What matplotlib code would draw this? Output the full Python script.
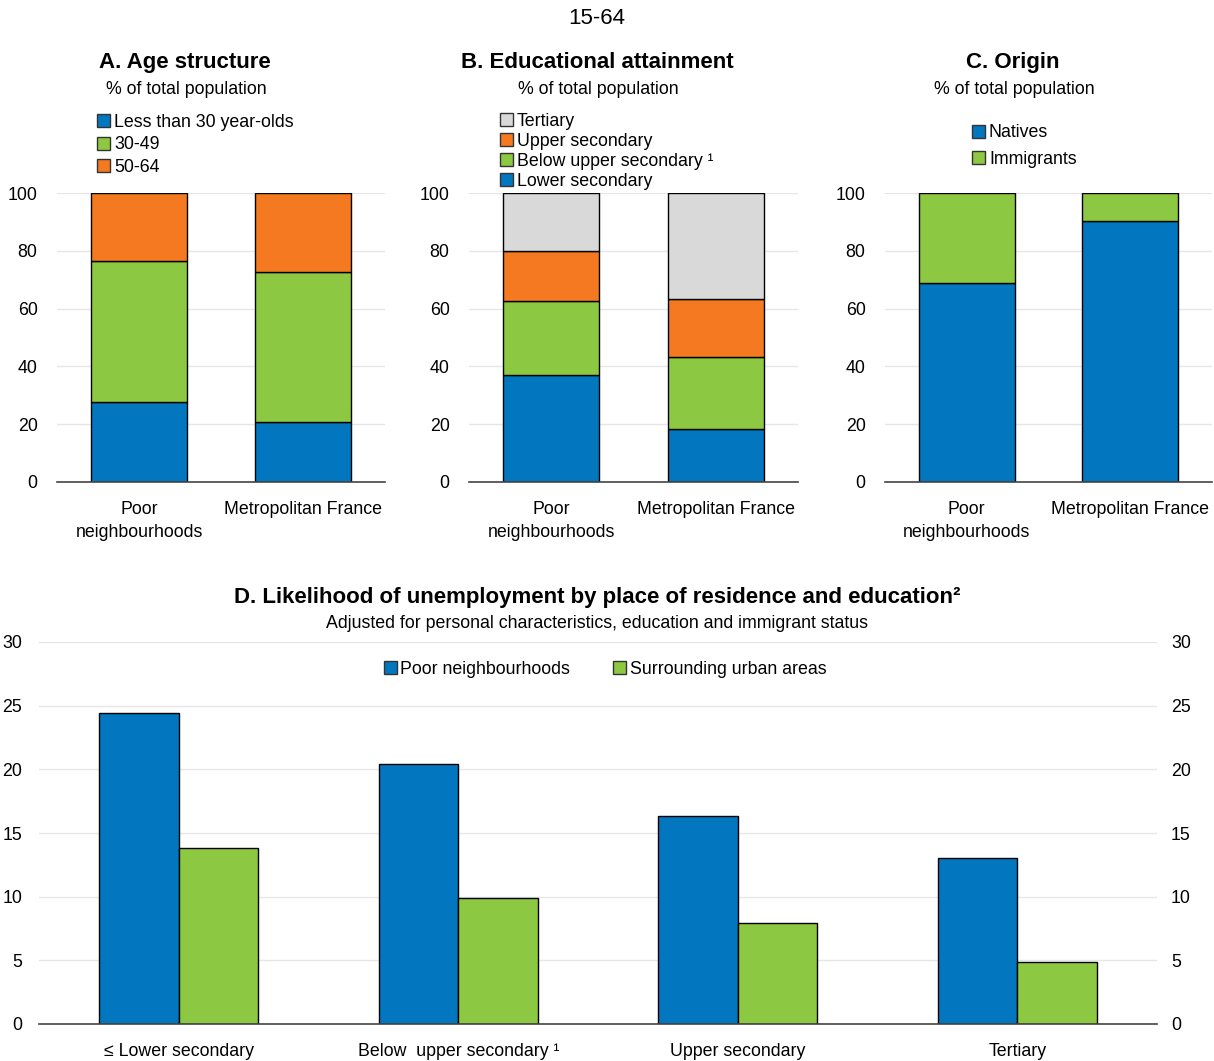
import matplotlib
matplotlib.use("Agg")
import matplotlib.pyplot as plt
from matplotlib.patches import Patch
import numpy as np

plt.rcParams['font.family'] = ['Liberation Sans Narrow', 'Liberation Sans', 'DejaVu Sans']

BLUE = '#0277BF'
GREEN = '#8CC841'
ORANGE = '#F47920'
GREY = '#D9D9D9'

W, H = 1214, 1061
FS = 12.8

# --- data ---
places = ['Poor\nneighbourhoods', 'Metropolitan France']

age_labels = ['Less than 30 year-olds', '30-49', '50-64']
age_under30 = [27.7, 20.8]
age_30_49 = [48.8, 51.9]
age_50_64 = [23.5, 27.3]

edu_labels = ['Lower secondary', 'Below upper secondary \u00b9', 'Upper secondary', 'Tertiary']
edu_lower = [36.9, 18.3]
edu_below_upper = [25.9, 25.1]
edu_upper = [17.2, 20.0]
edu_tertiary = [20.0, 36.6]

origin_labels = ['Natives', 'Immigrants']
origin_natives = [69.0, 90.3]
origin_immigrants = [31.0, 9.7]

unemp_cats = ['\u2264 Lower secondary', 'Below  upper secondary \u00b9', 'Upper secondary', 'Tertiary']
unemp_poor = [24.4, 20.4, 16.3, 13.0]
unemp_urban = [13.8, 9.9, 7.9, 4.9]


def box(x0, y0, x1, y1):
    # pixel box -> figure fraction rect
    return [x0 / W, 1 - y1 / H, (x1 - x0) / W, (y1 - y0) / H]


def style_axis(ax, ymax, step):
    ax.set_ylim(0, ymax)
    ax.set_yticks(np.arange(0, ymax + 0.1, step))
    ax.grid(axis='y', color='#E6E6E6', linewidth=1)
    ax.set_axisbelow(True)
    for s in ['top', 'right', 'left']:
        ax.spines[s].set_visible(False)
    ax.spines['bottom'].set_color('#444444')
    ax.spines['bottom'].set_linewidth(1.2)
    ax.tick_params(length=0, labelsize=FS)


def stacked(ax, series, colors):
    x = np.arange(len(places))
    bottom = np.zeros(len(places))
    for vals, c in zip(series, colors):
        ax.bar(x, vals, 0.585, bottom=bottom, color=c, edgecolor='black', linewidth=1)
        bottom += np.array(vals)
    ax.set_xlim(-0.5, 1.5)
    ax.set_xticks(x)
    ax.set_xticklabels(places, linespacing=1.45)
    style_axis(ax, 100, 20)
    ax.tick_params(axis='y', pad=14)
    ax.tick_params(axis='x', pad=14)


def legend(ax, labels, colors, anchor, loc='lower left', ncol=1, colsp=1.0, lsp=0.3):
    handles = [Patch(facecolor=c, edgecolor='#333333', linewidth=1) for c in colors]
    ax.legend(handles, labels, loc=loc, bbox_to_anchor=anchor, bbox_transform=fig.transFigure,
              frameon=False, fontsize=FS, handlelength=0.75, handleheight=0.75,
              handletextpad=0.2, labelspacing=lsp, borderaxespad=0, borderpad=0,
              ncol=ncol, columnspacing=colsp)


fig = plt.figure(figsize=(W / 100, H / 100), dpi=100)

fig.text(597 / W, 1 - 19 / H, '15-64', ha='center', va='center', fontsize=16)

# Panel A
axA = fig.add_axes(box(57, 193, 385, 482))
stacked(axA, [age_under30, age_30_49, age_50_64], [BLUE, GREEN, ORANGE])
legend(axA, age_labels, [BLUE, GREEN, ORANGE], (97 / W, 1 - 176 / H), lsp=0.32)

# Panel B
axB = fig.add_axes(box(469, 193, 798, 482))
stacked(axB, [edu_lower, edu_below_upper, edu_upper, edu_tertiary], [BLUE, GREEN, ORANGE, GREY])
legend(axB, edu_labels[::-1], [GREY, ORANGE, GREEN, BLUE], (500 / W, 1 - 190 / H), lsp=0.17)

# Panel C
axC = fig.add_axes(box(885, 193, 1212, 482))
stacked(axC, [origin_natives, origin_immigrants], [BLUE, GREEN])
legend(axC, origin_labels, [BLUE, GREEN], (972 / W, 1 - 168 / H), lsp=0.55)

titles = [(185, 'A. Age structure'), (597, 'B. Educational attainment'), (1013, 'C. Origin')]
for xc, t in titles:
    fig.text(xc / W, 1 - 63 / H, t, ha='center', va='center', fontsize=16, fontweight='bold')
    fig.text((xc + 1) / W, 1 - 90 / H, '% of total population', ha='center', va='center', fontsize=FS)

# Panel D
axD = fig.add_axes(box(39, 642, 1157, 1024))
xd = np.arange(len(unemp_cats))
bw = 0.285
axD.bar(xd - bw / 2, unemp_poor, bw, color=BLUE, edgecolor='black', linewidth=1)
axD.bar(xd + bw / 2, unemp_urban, bw, color=GREEN, edgecolor='black', linewidth=1)
axD.set_xlim(-0.5, 3.5)
axD.set_xticks(xd)
axD.set_xticklabels(unemp_cats)
style_axis(axD, 30, 5)
axD.tick_params(axis='y', pad=12)
axD.tick_params(axis='x', pad=14)
axR = axD.twinx()
axR.set_ylim(0, 30)
axR.set_yticks(np.arange(0, 31, 5))
for s in ['top', 'right', 'left', 'bottom']:
    axR.spines[s].set_visible(False)
axR.tick_params(length=0, labelsize=FS, pad=10)

legend(axD, ['Poor neighbourhoods', 'Surrounding urban areas'], [BLUE, GREEN],
       (605 / W, 1 - 669 / H), loc='center', ncol=2, colsp=2.4)

fig.text(597 / W, 1 - 598 / H, 'D. Likelihood of unemployment by place of residence and education\u00b2',
         ha='center', va='center', fontsize=16, fontweight='bold')
fig.text(597 / W, 1 - 624 / H, 'Adjusted for personal characteristics, education and immigrant status',
         ha='center', va='center', fontsize=FS)

fig.savefig('out.png', dpi=100)
